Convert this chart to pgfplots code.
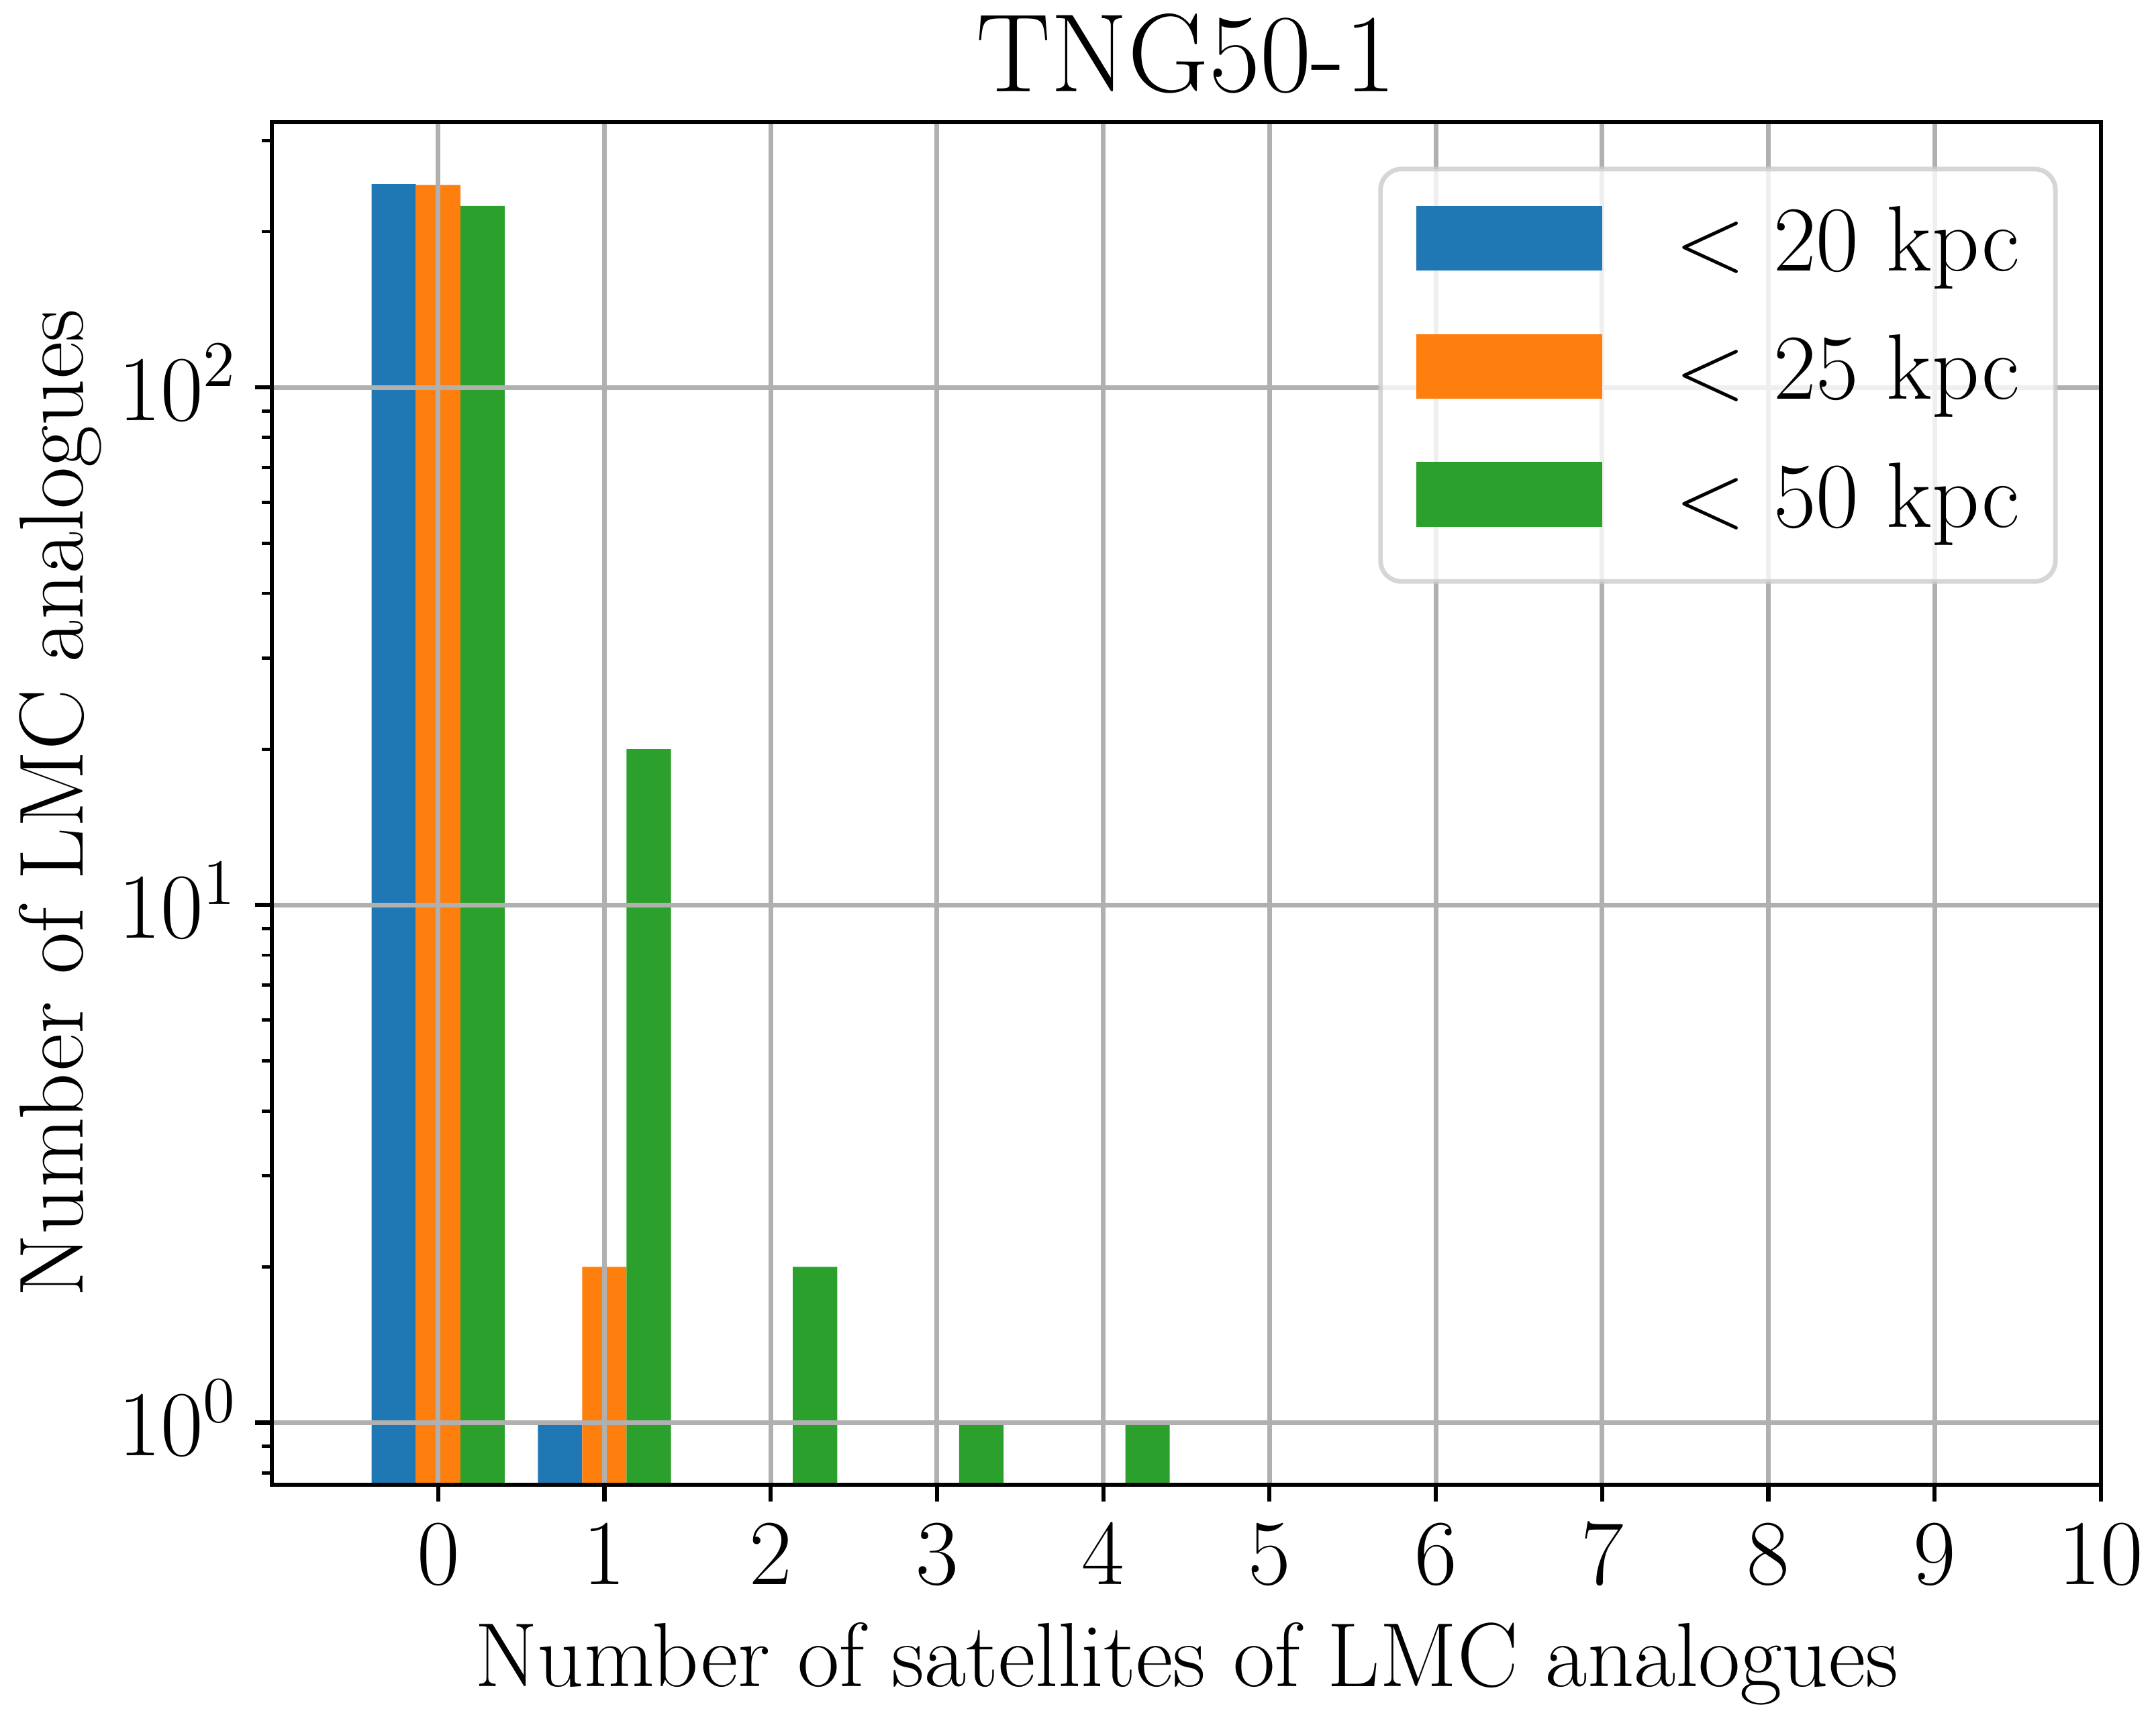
\RequirePackage{fix-cm}
\documentclass[border=0pt]{standalone}
\usepackage{pgfplots}
\pgfplotsset{compat=1.18}
\definecolor{tabblue}{HTML}{1F77B4}
\definecolor{taborange}{HTML}{FF7F0E}
\definecolor{tabgreen}{HTML}{2CA02C}
\definecolor{gridgray}{HTML}{B0B0B0}
\definecolor{legedge}{HTML}{CCCCCC}
\pgfplotsset{
  mybar/.style={ybar, bar width=0.26667, draw=none,
    legend image code/.code={%
      \path[draw=none,fill=none] (0pt,-13.7pt) rectangle (40pt,13.9pt);
      \fill[##1, draw=none, fill opacity=1, sharp corners] (0pt,-5pt) rectangle (40pt,9pt);
    }},
}
\begin{document}
\begin{tikzpicture}
\useasboundingbox (-58.54pt,-49.98pt) rectangle (405.72pt,319.72pt);
\begin{axis}[
  at={(0pt,0pt)}, anchor=south west,
  scale only axis, width=393.87pt, height=293.41pt,
  ymode=log, log origin=infty,
  xmin=-1, xmax=10, ymin=0.759, ymax=325.3,
  xtick={0,1,2,3,4,5,6,7,8,9,10}, ytick={1,10,100},
  minor ytick={0.8,0.9,2,3,4,5,6,7,8,9,20,30,40,50,60,70,80,90,200,300},
  tick pos=left, tick align=outside,
  major tick length=3.6pt, minor tick length=2.1pt,
  every major tick/.append style={line width=0.9pt, black},
  every minor tick/.append style={line width=0.7pt, black},
  axis line style={line width=1pt, black},
  grid=major, major grid style={line width=1pt, gridgray},
  axis on top,
  tick label style={font=\fontsize{20}{24}\selectfont},
  xticklabel style={anchor=base, inner sep=0pt, yshift=-17.94pt},
  yticklabel style={anchor=base east, inner sep=0pt, xshift=-3.6pt, yshift=-7.08pt},
  title={TNG50-1},
  every axis title/.style={at={(axis description cs:0.5,1.02219)}, anchor=base, font=\fontsize{24}{29}\selectfont},
  xlabel={Number of satellites of LMC analogues},
  ylabel={Number of LMC analogues},
  every axis x label/.style={at={(axis description cs:0.5,-0.14815)}, anchor=base, font=\fontsize{19.6}{24}\selectfont},
  every axis y label/.style={at={(axis description cs:-0.10336,0.5)}, rotate=90, anchor=base, font=\fontsize{19.6}{24}\selectfont},
  legend cell align=left,
  legend style={
    at={(axis description cs:1,1)}, anchor=north east, xshift=-9.3pt, yshift=-9.6pt,
    draw=legedge, draw opacity=0.8, line width=1pt, rounded corners=4.5pt,
    fill=white, fill opacity=0.8, text opacity=1,
    inner xsep=7.75pt, inner ysep=3pt,
    column sep=15.6pt, row sep=0pt,
    font=\fontsize{20}{24}\selectfont,
    nodes={inner sep=0pt, text height=13.9pt, text depth=3.9pt},
  },
]
\addplot[mybar, fill=tabblue, bar shift=-0.26667] coordinates {(0,247) (1,1)};
\addlegendentry{$<$ 20 kpc}
\addplot[mybar, fill=taborange, bar shift=0] coordinates {(0,246) (1,2)};
\addlegendentry{$<$ 25 kpc}
\addplot[mybar, fill=tabgreen, bar shift=0.26667] coordinates {(0,224) (1,20) (2,2) (3,1) (4,1)};
\addlegendentry{$<$ 50 kpc}
\end{axis}
\end{tikzpicture}
\end{document}
